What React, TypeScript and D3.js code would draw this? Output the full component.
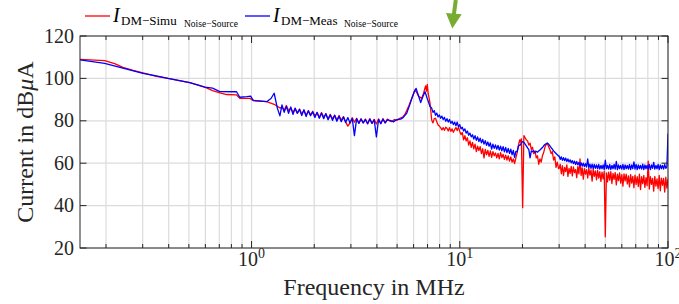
import React from 'react';
import * as d3 from 'd3';

const W = 679;
const H = 304;
const PL = 80, PR = 668, PT = 36, PB = 248;

const yTicks = [20, 40, 60, 80, 100, 120];
const xMajorTicks = [1, 10, 100];
const xMajorExp = ['0', '1', '2'];
const xDomain: [number, number] = [0.15, 100];
const yDomain: [number, number] = [20, 120];

// ---------------- Red: I_DM-Simu (simulation) ----------------
const redLowFreq: [number, number][] = [
  [0.15, 109.0], [0.197, 108.4], [0.22, 107.0], [0.241, 105.2], [0.27, 103.8], [0.301, 102.6],
  [0.349, 101.0], [0.397, 100.0], [0.45, 99.0], [0.505, 98.0], [0.55, 97.0], [0.596, 95.9],
  [0.65, 94.2], [0.704, 93.2], [0.76, 92.4], [0.847, 92.2], [0.878, 90.6], [0.981, 90.6],
  [1.02, 89.6], [1.181, 89.0], [1.284, 87.8], [1.37, 86.0],
];
const redBandA_range: [number, number] = [1.40, 4.60];
const redBandA = [
  86.5, 85.0, 87.2, 84.8, 86.0, 84.0, 85.6, 83.5, 85.5, 83.2, 84.9, 82.6, 84.6, 82.8, 84.5, 82.2,
  83.8, 81.5, 83.9, 81.8, 83.2, 80.9, 83.0, 81.0, 82.6, 80.4, 82.5, 80.2, 82.0, 79.4, 77.5, 79.0,
  81.4, 79.3, 81.2, 78.8, 81.0, 79.0, 80.8, 78.6, 81.0, 78.8, 80.7, 78.5, 80.9, 78.7, 81.0, 79.0,
  80.8, 80.0,
];
const redResonance: [number, number][] = [
  [4.7, 79.6], [4.85, 80.6], [4.98, 80.2], [5.15, 81.2], [5.34, 81.9], [5.45, 83.0], [5.56, 84.8],
  [5.7, 87.2], [5.88, 90.5], [6.0, 92.8], [6.09, 94.5], [6.2, 93.5], [6.35, 91.5], [6.57, 90.6],
  [6.7, 93.0], [6.85, 96.5], [6.92, 94.0], [6.98, 97.2], [7.05, 93.0], [7.2, 88.2],
];
const redBandB_range: [number, number] = [7.33, 19.4];
const redBandB = [
  80.4, 79.0, 81.0, 81.2, 79.5, 78.0, 77.5, 76.8, 75.7, 76.8, 75.5, 77.0, 76.5, 75.2, 76.8, 75.0,
  76.2, 74.6, 75.8, 76.8, 75.4, 77.0, 75.0, 73.5, 74.5, 71.0, 73.0, 70.5, 72.0, 68.5, 70.5, 67.5,
  69.8, 66.8, 69.0, 65.5, 68.0, 66.0, 67.8, 64.5, 66.8, 62.5, 66.5, 64.0, 66.0, 63.2, 65.8, 62.8,
  65.5, 63.5, 64.8, 62.5, 64.6, 62.0, 65.0, 62.6, 64.2, 61.8, 63.8, 61.5, 63.5, 61.0, 63.0, 60.5,
  62.0, 59.8, 62.5, 65.0, 68.5, 71.0,
];
const redBandC_range: [number, number] = [19.5, 29.8];
const redBandC = [
  70.0, 71.5, 39.0, 73.0, 72.0, 71.0, 70.5, 68.5, 69.5, 66.5, 67.5, 64.5, 65.8, 62.5, 63.5, 59.5,
  62.0, 60.5, 63.5, 65.0, 67.5, 68.8, 69.2, 67.8, 66.5, 64.5, 65.5, 61.5, 63.0, 58.0, 60.5, 57.5,
];
const redBandD_range: [number, number] = [30.0, 100];
const redBandD = [
  57.5, 59.5, 55.0, 58.8, 54.2, 58.0, 56.0, 59.2, 53.8, 57.6, 55.2, 58.5, 54.0, 58.2, 55.6, 57.0,
  53.2, 58.4, 55.0, 62.0, 54.2, 57.8, 52.5, 57.4, 54.8, 57.0, 53.0, 57.6, 54.4, 56.8, 51.5, 57.2,
  53.8, 56.4, 52.2, 56.6, 53.0, 56.0, 51.4, 55.8, 52.6, 56.2, 25.3, 55.4, 51.2, 55.8, 52.0, 56.0,
  50.4, 55.2, 52.4, 55.6, 49.8, 54.8, 51.8, 55.4, 50.6, 54.6, 49.2, 55.0, 51.6, 54.8, 50.2, 54.0,
  48.8, 54.6, 50.6, 53.8, 48.4, 54.4, 50.0, 53.6, 49.0, 54.8, 47.6, 53.6, 50.4, 54.2, 48.6, 53.2,
  49.4, 61.0, 47.8, 53.6, 50.0, 52.8, 46.8, 53.8, 49.2, 52.6, 48.0, 54.2, 47.0, 53.0, 49.6, 52.8,
  46.4, 53.4, 48.2, 52.6,
];

// ---------------- Blue: I_DM-Meas (measurement) ----------------
const blueLowFreq: [number, number][] = [
  [0.15, 108.7], [0.197, 107.1], [0.241, 104.8], [0.301, 102.4], [0.349, 101.2], [0.397, 100.0],
  [0.505, 98.0], [0.596, 95.9], [0.65, 95.4], [0.704, 93.8], [0.847, 93.7], [0.878, 91.1],
  [0.95, 91.4], [0.99, 91.6], [1.02, 89.5], [1.181, 89.0], [1.24, 90.5], [1.284, 93.0],
  [1.33, 86.0], [1.368, 82.3],
];
const blueBandA_range: [number, number] = [1.40, 4.60];
const blueBandA = [
  87.5, 84.0, 86.8, 83.5, 86.5, 83.0, 86.0, 83.6, 85.4, 82.5, 85.2, 82.0, 84.8, 82.4, 84.2, 81.6,
  84.0, 81.2, 83.6, 81.0, 83.4, 80.5, 82.8, 80.2, 82.6, 79.8, 82.2, 79.6, 81.8, 79.2, 81.5, 79.0,
  81.2, 73.0, 81.0, 78.8, 80.8, 79.0, 80.6, 78.6, 80.8, 78.8, 80.5, 72.4, 80.6, 78.6, 80.8, 79.0,
  80.4, 80.2,
];
const blueResonance: [number, number][] = [
  [4.7, 80.0], [4.8, 79.5], [4.98, 80.6], [5.2, 80.8], [5.34, 81.5], [5.56, 83.5], [5.75, 87.5],
  [5.88, 90.5], [6.05, 93.8], [6.17, 95.3], [6.3, 92.5], [6.49, 88.6], [6.65, 91.5], [6.81, 93.7],
  [6.95, 91.0], [7.2, 86.7],
];
const blueBandB_range: [number, number] = [7.33, 19.4];
const blueBandB = [
  86.0, 84.0, 84.8, 82.6, 83.6, 81.8, 82.8, 81.2, 82.2, 80.6, 81.6, 79.8, 81.0, 79.4, 80.6, 78.8,
  79.8, 78.2, 79.4, 77.6, 79.4, 77.2, 78.2, 76.2, 77.0, 75.2, 76.2, 74.2, 75.2, 73.2, 74.2, 72.4,
  73.4, 71.4, 73.0, 70.8, 72.4, 70.2, 71.8, 69.6, 71.2, 69.0, 70.6, 68.4, 70.0, 68.0, 69.6, 66.6,
  69.0, 67.0, 68.6, 66.6, 68.4, 66.2, 68.0, 65.8, 67.8, 65.4, 67.4, 65.0, 67.0, 64.6, 66.6, 64.0,
  66.0, 62.8, 65.6, 65.4, 68.0, 68.6,
];
const blueBandC_range: [number, number] = [19.5, 29.8];
const blueBandC = [
  68.5, 69.6, 70.2, 69.8, 69.0, 68.2, 67.2, 66.4, 62.5, 65.8, 65.4, 65.8, 65.0, 65.6, 65.2, 65.8,
  66.2, 66.8, 67.4, 68.2, 68.8, 69.2, 69.5, 69.0, 68.2, 67.4, 66.6, 65.8, 65.2, 64.6, 64.0, 63.4,
];
const blueBandD_range: [number, number] = [30.0, 100];
const blueBandD = [
  63.4, 61.8, 63.0, 61.4, 62.6, 61.2, 62.4, 60.8, 62.0, 60.6, 61.6, 60.2, 61.2, 59.8, 61.0, 59.4,
  60.8, 59.2, 60.4, 58.8, 60.2, 58.6, 60.0, 58.4, 59.8, 58.2, 62.0, 57.8, 59.6, 57.6, 59.6, 57.4,
  59.4, 57.6, 59.2, 57.4, 59.4, 57.2, 59.0, 57.4, 59.2, 57.0, 61.4, 57.4, 59.0, 57.2, 59.4, 57.0,
  59.0, 57.4, 59.4, 57.2, 60.8, 57.0, 59.2, 57.4, 59.0, 57.2, 59.4, 57.0, 59.2, 57.4, 59.0, 57.2,
  59.4, 57.0, 59.2, 57.4, 60.6, 57.2, 59.4, 57.0, 59.2, 57.4, 59.0, 57.2, 59.6, 57.0, 59.2, 57.4,
  59.0, 57.2, 59.4, 57.0, 59.2, 57.6, 60.4, 57.2, 59.0, 57.4, 59.4, 57.0, 59.2, 57.4, 59.0, 57.2,
  59.4, 57.6, 58.4, 74.0,
];

// sample grid of the analyser sweep inside a band: values are the typed readings
function sweep(range: [number, number], vals: number[]): [number, number][] {
  const [f0, f1] = range;
  return vals.map((v, i) => [f0 * Math.pow(f1 / f0, i / (vals.length - 1)), v]);
}

const redSeries: [number, number][] = [
  ...redLowFreq,
  ...sweep(redBandA_range, redBandA),
  ...redResonance,
  ...sweep(redBandB_range, redBandB),
  ...sweep(redBandC_range, redBandC),
  ...sweep(redBandD_range, redBandD),
];
const blueSeries: [number, number][] = [
  ...blueLowFreq,
  ...sweep(blueBandA_range, blueBandA),
  ...blueResonance,
  ...sweep(blueBandB_range, blueBandB),
  ...sweep(blueBandC_range, blueBandC),
  ...sweep(blueBandD_range, blueBandD),
];

const FONT = '"Liberation Serif", "DejaVu Serif", serif';
const AX = '#262626';

export default function App() {
  const x = d3.scaleLog().domain(xDomain).range([PL, PR]);
  const y = d3.scaleLinear().domain(yDomain).range([PB, PT]);
  const line = d3
    .line<[number, number]>()
    .x((d) => x(d[0]))
    .y((d) => y(d[1]));

  const minorTicks: number[] = [];
  [0.1, 1, 10].forEach((dec) => {
    for (let k = 1; k <= 9; k++) {
      const f = +(k * dec).toPrecision(3);
      if (f >= xDomain[0] && f <= xDomain[1] && !xMajorTicks.includes(f)) minorTicks.push(f);
    }
  });

  return (
    <svg
      width={W}
      height={H}
      style={{ position: 'absolute', left: 0, top: 0, background: '#fff' }}
      fontFamily={FONT}
    >
      <defs>
        <clipPath id="plotclip">
          <rect x={PL} y={PT} width={PR - PL} height={PB - PT} />
        </clipPath>
      </defs>
      <rect x={0} y={0} width={W} height={H} fill="#fff" />

      {/* grid */}
      <g stroke="#dcdcdc" strokeWidth={1.2}>
        {[...minorTicks, ...xMajorTicks].map((t) => (
          <line key={'gx' + t} x1={x(t)} x2={x(t)} y1={PT} y2={PB} />
        ))}
        {yTicks.map((t) => (
          <line key={'gy' + t} x1={PL} x2={PR} y1={y(t)} y2={y(t)} />
        ))}
      </g>

      {/* data */}
      <g clipPath="url(#plotclip)" fill="none" strokeWidth={1.3} strokeLinejoin="round">
        <path d={line(redSeries) || ''} stroke="#ff0000" />
        <path d={line(blueSeries) || ''} stroke="#0000ff" />
      </g>

      {/* axes box */}
      <rect x={PL} y={PT} width={PR - PL} height={PB - PT} fill="none" stroke={AX} strokeWidth={1} />

      {/* x ticks */}
      <g stroke={AX} strokeWidth={1}>
        {minorTicks.map((t) => (
          <g key={'mt' + t}>
            <line x1={x(t)} x2={x(t)} y1={PB} y2={PB - 4} />
            <line x1={x(t)} x2={x(t)} y1={PT} y2={PT + 4} />
          </g>
        ))}
        {xMajorTicks.map((t) => (
          <g key={'Mt' + t}>
            <line x1={x(t)} x2={x(t)} y1={PB} y2={PB - 7} />
            <line x1={x(t)} x2={x(t)} y1={PT} y2={PT + 7} />
          </g>
        ))}
        {yTicks.map((t) => (
          <g key={'yt' + t}>
            <line x1={PL} x2={PL + 6.5} y1={y(t)} y2={y(t)} />
            <line x1={PR} x2={PR - 6.5} y1={y(t)} y2={y(t)} />
          </g>
        ))}
      </g>

      {/* tick labels */}
      <g fill={AX} fontSize={20}>
        {yTicks.map((t) => (
          <text key={'yl' + t} x={PL - 6} y={y(t) + 6.5} textAnchor="end">
            {t}
          </text>
        ))}
        {xMajorTicks.map((t, i) => (
          <text key={'xl' + t} x={x(t)} y={266} textAnchor="middle">
            <tspan>10</tspan>
            <tspan dy={-8} fontSize={14}>
              {xMajorExp[i]}
            </tspan>
          </text>
        ))}
      </g>

      {/* axis labels */}
      <text x={(PL + PR) / 2} y={295} textAnchor="middle" fontSize={24} fill={AX}>
        Frequency in MHz
      </text>
      <text transform={`translate(33,${(PT + PB) / 2}) rotate(-90)`} textAnchor="middle" fontSize={24} fill={AX}>
        Current in dB<tspan fontStyle="italic">μ</tspan>A
      </text>

      {/* legend */}
      <g fill="#000">
        <line x1={85} x2={110} y1={16} y2={16} stroke="#ff0000" strokeWidth={1.3} />
        <text x={113} y={22} fontSize={20} fontStyle="italic">I</text>
        <text x={121} y={25} fontSize={13}>DM−Simu</text>
        <text x={184} y={27} fontSize={9.5}>Noise−Source</text>
        <line x1={245} x2={270} y1={16} y2={16} stroke="#0000ff" strokeWidth={1.3} />
        <text x={273} y={22} fontSize={20} fontStyle="italic">I</text>
        <text x={281} y={25} fontSize={13}>DM−Meas</text>
        <text x={344} y={27} fontSize={9.5}>Noise−Source</text>
      </g>

      {/* green arrow */}
      <line x1={455.8} y1={0} x2={453.8} y2={15} stroke="#77AC30" strokeWidth={4} />
      <polygon points="446,13 461.7,14.3 452.3,28.5" fill="#77AC30" />
    </svg>
  );
}
